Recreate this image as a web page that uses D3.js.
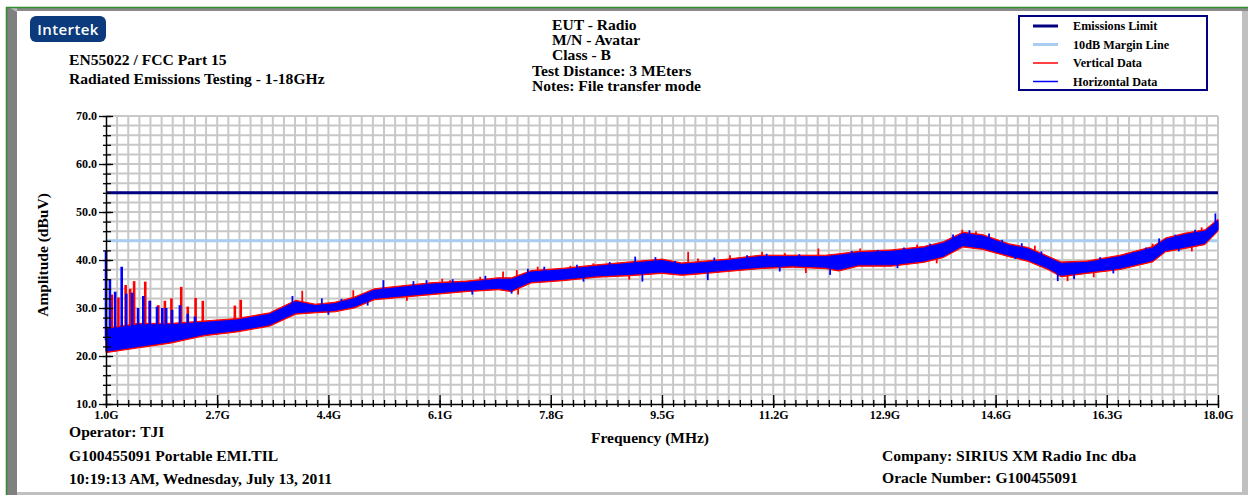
<!DOCTYPE html>
<html>
<head>
<meta charset="utf-8">
<script src="https://cdn.jsdelivr.net/npm/d3@7"></script>
<style>
  body { margin: 0; background: #fff; }
  text { font-family: "Liberation Serif", "Times New Roman", serif; font-weight: bold; fill: #000; }
  .logo { font-family: "Open Sans", sans-serif; font-weight: 600; fill: #fff; }
</style>
</head>
<body>
<svg width="1248" height="495"></svg>
<script>
const freqs = [1.0, 1.25, 1.5, 1.75, 2.0, 2.5, 3.0, 3.5, 3.9, 4.2, 4.5, 4.8, 5.1, 5.5, 6.0, 6.5, 7.0, 7.2, 7.5, 8.0,
  8.5, 9.0, 9.5, 9.8, 10.0, 10.5, 11.0, 11.5, 12.0, 12.2, 12.5, 13.0, 13.5, 13.8, 14.1, 14.4, 14.8, 15.1, 15.4, 15.6,
  16.0, 16.5, 17.0, 17.2, 17.5, 17.8, 18.0];

// horizontal data (blue) band low / high edges, dBuV
const horizLo = [21, 21.5, 22, 22.5, 23, 24.5, 25.3, 26.5, 29, 29.3, 29.5, 30.3, 32, 32.5, 33.1, 33.7, 34.1, 33.7, 35.5, 36,
  36.7, 37, 37.5, 37.1, 37.3, 37.9, 38.5, 38.8, 38.5, 38, 39, 39, 39.8, 40.8, 43, 42.5, 41, 40, 38.3, 36.8,
  37.5, 38.3, 39.9, 42, 42.7, 43.5, 46.3];
const horizHi = [25.5, 26, 26.5, 26.5, 26.5, 27, 27.5, 28.7, 31.3, 30.5, 30.9, 32, 33.7, 34.3, 35, 35.3, 36, 36, 37.5, 38,
  38.7, 39.3, 39.9, 39.1, 39.3, 39.9, 40.7, 40.7, 40.7, 41, 41.5, 41.8, 42.5, 43.5, 45.5, 45, 43.1, 42.3, 40.5, 39.3,
  39.5, 40.7, 42.5, 44.3, 45.3, 46, 48.2];

// vertical data (red) band low / high edges, dBuV
const vertLo = [20.7, 21.2, 21.7, 22.2, 22.7, 24.2, 25, 26.2, 28.7, 29, 29.2, 30, 31.7, 32.2, 32.8, 33.4, 33.8, 33.4, 35.2, 35.7,
  36.4, 36.7, 37.2, 36.8, 37, 37.6, 38.2, 38.5, 38.2, 37.7, 38.7, 38.7, 39.5, 40.5, 42.7, 42.2, 40.7, 39.7, 38, 36.5,
  37.2, 38, 39.6, 41.7, 42.4, 43.2, 46];
const vertHi = [25.8, 26.3, 26.8, 26.8, 26.8, 27.3, 27.8, 29, 31.6, 30.8, 31.2, 32.3, 34, 34.6, 35.3, 35.6, 36.3, 36.3, 37.8, 38.3,
  39, 39.6, 40.2, 39.4, 39.6, 40.2, 41, 41, 41, 41.3, 41.8, 42.1, 42.8, 43.8, 45.8, 45.3, 43.4, 42.6, 40.8, 39.6,
  39.8, 41, 42.8, 44.6, 45.6, 46.3, 48.5];

// single peaks / dips standing out of the band (GHz, dBuV)
const horizSpikeF = [1.0, 1.06, 1.14, 1.24, 1.31, 1.40, 1.49, 1.57, 1.67, 1.78, 1.86, 1.92, 2.01, 2.13, 2.25, 2.36, 3.85,
  4.3, 4.6, 4.95, 5.24, 5.7, 5.9, 6.3, 6.8, 7.45, 7.7, 8.2, 8.7, 9.09, 9.4, 9.7, 10.3, 10.8, 11.1, 11.6, 12.4, 12.8,
  13.2, 13.6, 13.95, 14.2, 14.5, 14.7, 15.0, 15.3, 16.2, 16.7, 16.9, 17.1, 17.35, 17.65, 17.96,
  4.4, 5.0, 6.6, 7.2, 8.3, 9.2, 10.2, 11.3, 12.07, 13.1, 14.9, 15.55, 15.8, 16.4, 17.4];
const horizSpikeV = [42, 36, 33.4, 38.6, 33, 33.2, 30, 32.5, 31.5, 30.3, 30, 30, 29.6, 30.6, 28.8, 28.2, 32.5,
  32.0, 31.9, 33.0, 35.8, 35.6, 35.8, 36.0, 36.7, 38.2, 38.6, 39.0, 39.6, 40.7, 40.6, 39.8, 40.5, 41.0, 41.3, 41.2, 41.9, 42.1,
  42.6, 43.4, 45.3, 46.2, 45.5, 44.2, 43.5, 41.8, 40.6, 41.6, 42.6, 44.5, 45.3, 46.3, 49.7,
  28.6, 30.5, 32.8, 33.0, 35.5, 35.5, 35.8, 37.6, 36.9, 38.3, 40.2, 35.6, 36.0, 37.2, 41.8];
const vertSpikeF = [1.09, 1.19, 1.30, 1.37, 1.43, 1.60, 1.67, 1.80, 1.90, 2.00, 2.15, 2.25, 2.37, 2.48, 2.97, 3.06, 4.0,
  4.78, 6.14, 6.26, 6.72, 7.07, 7.28, 7.6, 8.1, 8.45, 9.35, 9.9, 10.05, 10.54, 11.03, 11.38, 11.89, 12.27, 12.53, 13.4,
  14.09, 14.3, 15.2, 16.6, 17.0, 17.3, 17.75,
  5.6, 7.3, 9.0, 11.7, 13.7, 15.7, 16.1, 17.6];
const vertSpikeV = [32.8, 32.2, 34.8, 34, 35.6, 35.5, 31.5, 30.6, 31.5, 32, 34.4, 30.3, 32.1, 31.5, 30.5, 31.7, 33.6,
  33.7, 36.1, 35.8, 36.5, 37.6, 37.9, 38.6, 38.8, 39.3, 39.9, 41.7, 40.3, 41, 41.7, 41.4, 42.4, 41.4, 42.4, 43.2,
  46.3, 46.0, 43.0, 41.5, 43.4, 44.8, 46.8,
  31.5, 32.8, 35.9, 37.3, 39.3, 35.6, 36.4, 41.8];

const limitLevel = 54;
const marginLevel = 44;
const xTicks = [1.0, 2.7, 4.4, 6.1, 7.8, 9.5, 11.2, 12.9, 14.6, 16.3, 18.0];
const yTicks = [10, 20, 30, 40, 50, 60, 70];

const legendItems = ["Emissions Limit", "10dB Margin Line", "Vertical Data", "Horizontal Data"];
const leftHeader = ["EN55022 / FCC Part 15", "Radiated Emissions Testing - 1-18GHz"];
const centerHeader = ["EUT - Radio", "M/N - Avatar", "Class - B"];
const centerNotes = ["Test Distance: 3 MEters", "Notes: File transfer mode"];
const footLeft = ["G100455091 Portable EMI.TIL", "10:19:13 AM, Wednesday, July 13, 2011"];
const footRight = ["Company: SIRIUS XM Radio Inc dba", "Oracle Number: G100455091"];

const svg = d3.select("svg");

// window frame
svg.append("rect").attr("x", 6).attr("y", 7).attr("width", 1242).attr("height", 488).attr("fill", "#c0c0c0");
svg.append("rect").attr("x", 6).attr("y", 7).attr("width", 1242).attr("height", 4).attr("fill", "#8a8a8a");
svg.append("polygon").attr("points", "7,8 17,8 17,495 7,495").attr("fill", "#808080");
svg.append("polygon").attr("points", "7,8 17,8 17,12 10,8").attr("fill", "#b8b8b8");
svg.append("rect").attr("x", 17).attr("y", 11).attr("width", 1225).attr("height", 481).attr("fill", "#fff");
svg.append("line").attr("x1", 6).attr("y1", 7.5).attr("x2", 1248).attr("y2", 7.5).attr("stroke", "#2e8b2e").attr("stroke-width", 1.5);
svg.append("line").attr("x1", 6.5).attr("y1", 7).attr("x2", 6.5).attr("y2", 495).attr("stroke", "#2e8b2e").attr("stroke-width", 1.5);

// logo
svg.append("rect").attr("x", 30).attr("y", 16).attr("width", 76).attr("height", 26).attr("rx", 6).attr("fill", "#0b3b7c");
svg.append("text").attr("class", "logo").attr("x", 68).attr("y", 34.5).attr("text-anchor", "middle")
  .style("font-size", "15px").style("letter-spacing", "0.4px").text("Intertek");

// header texts
svg.selectAll(".lh").data(leftHeader).enter().append("text").attr("class", "lh")
  .attr("x", 69).attr("y", function(d, i) { return 65 + i * 19; })
  .style("font-size", "15.6px").text(function(d) { return d; });
svg.selectAll(".ch").data(centerHeader).enter().append("text").attr("class", "ch")
  .attr("x", 552).attr("y", function(d, i) { return 30 + i * 15; })
  .style("font-size", "15.6px").text(function(d) { return d; });
svg.selectAll(".cn").data(centerNotes).enter().append("text").attr("class", "cn")
  .attr("x", 532).attr("y", function(d, i) { return 75.5 + i * 15.5; })
  .style("font-size", "15.6px").text(function(d) { return d; });

// legend
const legendColors = ["#000080", "#a9cdee", "#ff0000", "#0000ff"];
const legendWidths = [3, 3, 1.5, 1.5];
svg.append("rect").attr("x", 1019).attr("y", 16).attr("width", 188).attr("height", 74)
  .attr("fill", "#fff").attr("stroke", "#000080").attr("stroke-width", 2);
const leg = svg.selectAll(".leg").data(legendItems).enter().append("g").attr("class", "leg")
  .attr("transform", function(d, i) { return "translate(1033," + (26 + i * 18.5) + ")"; });
leg.append("line").attr("x1", 0).attr("x2", 25).attr("y1", 0).attr("y2", 0)
  .attr("stroke", function(d, i) { return legendColors[i]; })
  .attr("stroke-width", function(d, i) { return legendWidths[i]; });
leg.append("text").attr("x", 40).attr("y", 4).style("font-size", "12.2px").text(function(d) { return d; });

// plot
const margin = { left: 106, top: 116, right: 30, bottom: 91 };
const width = 1248 - margin.left - margin.right;
const height = 495 - margin.top - margin.bottom;
const g = svg.append("g").attr("transform", "translate(" + margin.left + "," + margin.top + ")");

const x = d3.scaleLinear().domain([1, 18]).range([0, width]);
const y = d3.scaleLinear().domain([10, 70]).range([height, 0]);

const xMinor = d3.range(0, 101).map(function(i) { return 1 + i * 0.17; });
const yMinor = d3.range(10, 71, 2);

// grid
g.selectAll(".vgrid").data(xMinor.slice(1)).enter().append("line").attr("class", "vgrid")
  .attr("x1", function(d) { return x(d); }).attr("x2", function(d) { return x(d); })
  .attr("y1", 0).attr("y2", height).attr("stroke", "#c8c8c8").attr("stroke-width", 2);
g.selectAll(".hgrid").data(yMinor.slice(1)).enter().append("line").attr("class", "hgrid")
  .attr("x1", 0).attr("x2", width)
  .attr("y1", function(d) { return y(d); }).attr("y2", function(d) { return y(d); })
  .attr("stroke", "#c8c8c8").attr("stroke-width", 2);

// limit and margin lines
g.append("line").attr("x1", 0).attr("x2", width).attr("y1", y(marginLevel)).attr("y2", y(marginLevel))
  .attr("stroke", "#a9cdee").attr("stroke-width", 3);
g.append("line").attr("x1", 0).attr("x2", width).attr("y1", y(limitLevel)).attr("y2", y(limitLevel))
  .attr("stroke", "#000080").attr("stroke-width", 3);

function drawTrace(lo, hi, spikeF, spikeV, color) {
  const rows = freqs.map(function(f, i) { return { f: f, lo: lo[i], hi: hi[i] }; });
  const band = d3.area()
    .x(function(d) { return x(d.f); })
    .y0(function(d) { return y(d.lo); })
    .y1(function(d) { return y(d.hi); });
  g.append("path").datum(rows).attr("d", band)
    .attr("fill", color).attr("stroke", color).attr("stroke-width", 1).attr("stroke-linejoin", "bevel");
  const mid = d3.scaleLinear().domain(freqs).range(rows.map(function(d) { return (d.lo + d.hi) / 2; }));
  g.selectAll(null).data(spikeF).enter().append("line")
    .attr("x1", function(d) { return x(d); }).attr("x2", function(d) { return x(d); })
    .attr("y1", function(d) { return y(mid(d)); })
    .attr("y2", function(d, i) { return y(spikeV[i]); })
    .attr("stroke", color).attr("stroke-width", function(d) { return d < 3.2 ? 2.6 : 1.8; });
}
drawTrace(vertLo, vertHi, vertSpikeF, vertSpikeV, "#ff0000");
drawTrace(horizLo, horizHi, horizSpikeF, horizSpikeV, "#0000ff");

// x axis
g.append("g").attr("transform", "translate(0," + height + ")")
  .call(d3.axisBottom(x).tickValues(xMinor).tickSize(3).tickFormat(""))
  .call(function(a) { a.select(".domain").remove(); });
g.append("g").attr("transform", "translate(0," + height + ")")
  .call(d3.axisTop(x).tickValues(xMinor).tickSize(4).tickFormat(""))
  .call(function(a) { a.select(".domain").remove(); });
g.append("g").attr("transform", "translate(0," + height + ")")
  .call(d3.axisTop(x).tickValues(xTicks).tickSize(9).tickFormat(""))
  .call(function(a) { a.select(".domain").remove(); });
const xAxis = g.append("g").attr("transform", "translate(0," + height + ")")
  .call(d3.axisBottom(x).tickValues(xTicks).tickSize(4).tickSizeOuter(0).tickPadding(2)
    .tickFormat(function(d) { return d.toFixed(1) + "G"; }));
xAxis.selectAll("text").style("font-size", "12px").style("font-family", "Liberation Serif").style("font-weight", "bold");

// y axis
g.append("g").call(d3.axisLeft(y).tickValues(yMinor).tickSize(3).tickFormat(""))
  .call(function(a) { a.select(".domain").remove(); });
g.append("g").call(d3.axisRight(y).tickValues(yMinor).tickSize(5).tickFormat(""))
  .call(function(a) { a.select(".domain").remove(); });
g.append("g").call(d3.axisRight(y).tickValues(yTicks).tickSize(7).tickFormat(""))
  .call(function(a) { a.select(".domain").remove(); });
const yAxis = g.append("g")
  .call(d3.axisLeft(y).tickValues(yTicks).tickSize(7).tickSizeOuter(0).tickPadding(2)
    .tickFormat(function(d) { return d.toFixed(1); }));
yAxis.selectAll("text").style("font-size", "12px").style("font-family", "Liberation Serif").style("font-weight", "bold");
g.selectAll(".tick line").attr("stroke-width", 1.3);
g.selectAll(".domain").attr("stroke-width", 1.5);

// axis titles
svg.append("text").attr("x", 650).attr("y", 443).attr("text-anchor", "middle")
  .style("font-size", "15.5px").text("Frequency (MHz)");
svg.append("text").attr("transform", "translate(48,255) rotate(-90)").attr("text-anchor", "middle")
  .style("font-size", "15.5px").text("Amplitude (dBuV)");

// footer
svg.append("text").attr("x", 69).attr("y", 437).style("font-size", "15.6px").text("Operator: TJI");
svg.selectAll(".fl").data(footLeft).enter().append("text").attr("class", "fl")
  .attr("x", 69).attr("y", function(d, i) { return 461 + i * 23; })
  .style("font-size", "15.6px").text(function(d) { return d; });
svg.selectAll(".fr").data(footRight).enter().append("text").attr("class", "fr")
  .attr("x", 882).attr("y", function(d, i) { return 461 + i * 22; })
  .style("font-size", "15.6px").text(function(d) { return d; });
</script>
</body>
</html>
